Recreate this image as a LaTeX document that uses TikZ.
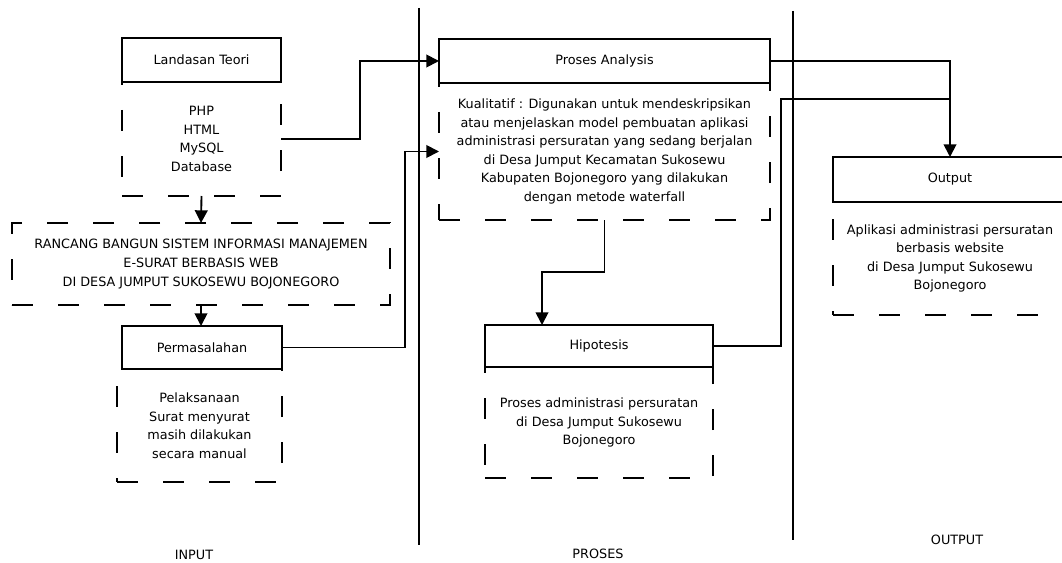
\documentclass[tikz,border=0pt]{standalone}
\usepackage{fontspec}
\setmainfont{DejaVu Sans}
\usetikzlibrary{arrows.meta,calc}
\begin{document}
\begin{tikzpicture}[x=0.75pt,y=-0.75pt,
  every node/.style={font=\fontsize{9.6}{13.9}\selectfont, text=black, inner sep=0pt, outer sep=0pt},
  sz/.style 2 args={minimum width=#1*0.75pt, minimum height=#2*0.75pt},
  head/.style={draw, line width=1.3pt},
  body/.style={draw, line width=1.8pt, dash pattern=on 15.75pt off 18.75pt, align=center},
  link/.style={line width=1.4pt, -{Triangle[length=9.5pt,width=9.5pt]}},
  plainlink/.style={line width=1.4pt},
  divider/.style={line width=1.1pt},
]
\useasboundingbox (0,0) rectangle (1062,563);
\clip (0,0) rectangle (1062,563);
\fill[white] (0,0) rectangle (1062,563);

% column dividers
\draw[divider] (419,8) -- (419,545);
\draw[divider] (793,11) -- (793,540);

% INPUT column
\node[body, sz={159}{114}] (ltb) at (201.5,139) {PHP\\HTML\\MySQL\\Database};
\node[head, sz={159}{44}] (lt) at (201.5,60) {Landasan Teori};
\node[body, sz={378}{82}] (rc) at (201,264)
  {RANCANG BANGUN SISTEM INFORMASI MANAJEMEN\\E-SURAT BERBASIS WEB\\DI DESA JUMPUT SUKOSEWU BOJONEGORO};
\node[body, sz={165}{113}] (pmb) at (199.5,425.5)
  {Pelaksanaan\\Surat menyurat\\masih dilakukan\\secara manual};
\node[head, sz={160}{43}] (pm) at (202,347.5) {Permasalahan};

% PROSES column
\node[body, sz={331}{137}] (pab) at (604.5,151.5)
  {Kualitatif : Digunakan untuk mendeskripsikan\\atau menjelaskan model pembuatan aplikasi\\administrasi persuratan yang sedang berjalan\\di Desa Jumput Kecamatan Sukosewu\\Kabupaten Bojonegoro yang dilakukan\\dengan metode waterfall};
\node[head, sz={331}{44}] (pa) at (604.5,61) {Proses Analysis};
\node[body, sz={228}{111}] (hpb) at (599,422.5)
  {Proses administrasi persuratan\\di Desa Jumput Sukosewu\\Bojonegoro};
\node[head, sz={228}{42}] (hp) at (599,346) {Hipotesis};

% OUTPUT column
\node[body, sz={234}{113}] (opb) at (950,258.5)
  {Aplikasi administrasi persuratan\\berbasis website\\di Desa Jumput Sukosewu\\Bojonegoro};
\node[head, sz={234}{45}] (op) at (950,179.5) {Output};

% column labels
\node (lin) at (194,555) {INPUT};
\node (lpr) at (598,554) {PROSES};
\node (lout) at (957,540) {OUTPUT};

% connectors
\draw[link] (ltb.south) -- (rc.north);
\draw[link] (rc.south) -- (rc.south |- pm.north);
\draw[link] (ltb.east) -- ++(79,0) |- (pa.west);
\draw[link] (pm.east) -- ++(123,0) |- (pab.west);
\draw[link] (pab.south) -- ++(0,52) -| ($(hp.north west)+(57,0)$);
\draw[link] (pa.east) -| (op.north);
\coordinate (join) at (950,99);
\draw[plainlink] (hp.east) -- ++(68,0) |- (join);
\end{tikzpicture}
\end{document}
